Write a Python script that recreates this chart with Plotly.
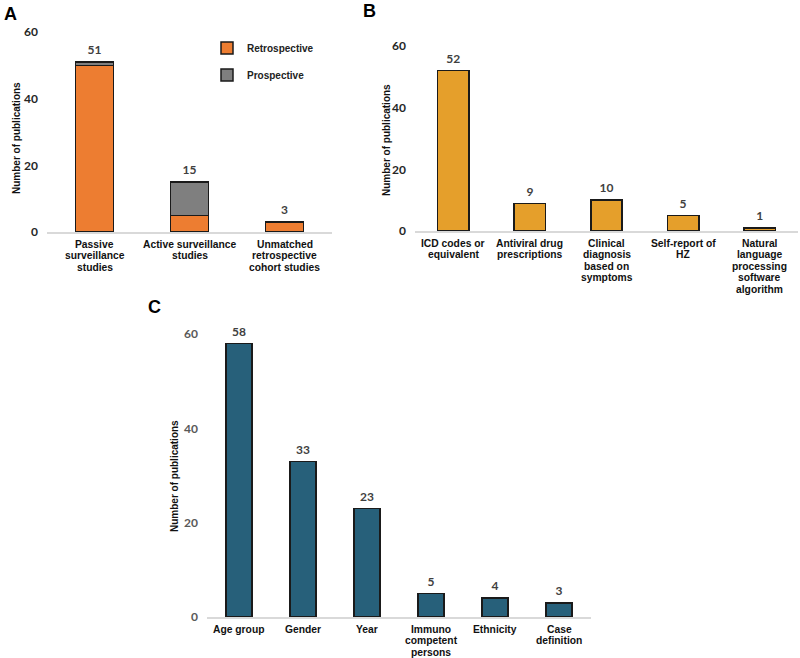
import plotly.graph_objects as go

# ---- Data ----
a_categories = ["Passive<br>surveillance<br>studies", "Active surveillance<br>studies",
                "Unmatched<br>retrospective<br>cohort studies"]
a_retrospective = [50, 5, 3]
a_prospective = [1, 10, 0]

b_categories = ["ICD codes or<br>equivalent", "Antiviral drug<br>prescriptions",
                "Clinical<br>diagnosis<br>based on<br>symptoms", "Self-report of<br>HZ",
                "Natural<br>language<br>processing<br>software<br>algorithm"]
b_values = [52, 9, 10, 5, 1]

c_categories = ["Age group", "Gender", "Year", "Immuno<br>competent<br>persons",
                "Ethnicity", "Case<br>definition"]
c_values = [58, 33, 23, 5, 4, 3]

y_ticks = [0, 20, 40, 60]

# ---- Styles ----
ORANGE = "#ED7D31"
GRAY = "#7F7F7F"
GOLD = "#E59F2B"
TEAL = "#27607A"
OUT = "#1a1a1a"
H = 658
W = 800

def py(p):
    return (H - p) / H

def px(p):
    return p / W

cat_font = dict(family="Liberation Sans, Arial, sans-serif", size=10.3, color="#111111", weight="bold")
tick_font = dict(family="Lato, Open Sans, sans-serif", size=12, color="#262626", weight="bold")
tick_font_c = dict(family="Lato, Open Sans, sans-serif", size=12, color="#595959", weight="bold")
val_font = dict(family="Lato, Open Sans, sans-serif", size=12, color="#404040", weight="bold")

fig = go.Figure()

def value_labels(xs, ys, xa, ya):
    return go.Scatter(x=xs, y=ys, mode="markers+text", text=[str(v) for v in ys],
                      marker=dict(size=6, opacity=0), hoverinfo="skip",
                      textposition="top center", textfont=val_font, showlegend=False,
                      xaxis=xa, yaxis=ya, cliponaxis=False)

# Panel A
fig.add_trace(go.Bar(x=a_categories, y=a_retrospective, name="Retrospective",
                     marker=dict(color=ORANGE, line=dict(color=OUT, width=1.5)),
                     width=0.4, xaxis="x", yaxis="y", legend="legend"))
fig.add_trace(go.Bar(x=a_categories, y=a_prospective, name="Prospective",
                     marker=dict(color=GRAY, line=dict(color=OUT, width=1.5)),
                     width=0.4, xaxis="x", yaxis="y", legend="legend2"))
a_totals = [r + p for r, p in zip(a_retrospective, a_prospective)]
fig.add_trace(value_labels(a_categories, a_totals, "x", "y"))

# Panel B
fig.add_trace(go.Bar(x=b_categories, y=b_values, showlegend=False,
                     marker=dict(color=GOLD, line=dict(color=OUT, width=1.5)),
                     width=0.41, xaxis="x2", yaxis="y2"))
fig.add_trace(value_labels(b_categories, b_values, "x2", "y2"))

# Panel C
fig.add_trace(go.Bar(x=c_categories, y=c_values, showlegend=False,
                     marker=dict(color=TEAL, line=dict(color=OUT, width=1.5)),
                     width=0.41, xaxis="x3", yaxis="y3"))
fig.add_trace(value_labels(c_categories, c_values, "x3", "y3"))

def xax(domain, anchor):
    return dict(domain=domain, anchor=anchor, showline=True, linecolor="#D9D9D9", linewidth=1.5,
                showgrid=False, zeroline=False, ticks="", showticklabels=False, fixedrange=True,
                automargin=False)

def yax(domain, anchor, tf):
    return dict(domain=domain, anchor=anchor, range=[0, 60], tickvals=y_ticks, showgrid=False,
                zeroline=False, showline=False, ticks="", tickfont=tf, ticklabelstandoff=8,
                automargin=False, fixedrange=True)

leg_font = dict(family="Liberation Sans, Arial, sans-serif", size=10, color="#222", weight="bold")
dom_a_y = [py(232), py(32)]
dom_b_y = [py(231), py(46)]
dom_c_y = [py(617), py(334)]
fig.update_layout(
    width=W, height=H, margin=dict(l=0, r=0, t=0, b=0, autoexpand=False),
    paper_bgcolor="white", plot_bgcolor="white",
    barmode="stack",
    xaxis=xax([px(47), px(332)], "y"),
    yaxis=yax(dom_a_y, "x", tick_font),
    xaxis2=xax([px(415), px(798)], "y2"),
    yaxis2=yax(dom_b_y, "x2", tick_font),
    xaxis3=xax([px(207), px(591)], "y3"),
    yaxis3=yax(dom_c_y, "x3", tick_font_c),
    legend=dict(x=px(207), y=py(48), xanchor="left", yanchor="middle", bgcolor="rgba(0,0,0,0)",
                font=leg_font, itemwidth=30),
    legend2=dict(x=px(207), y=py(75), xanchor="left", yanchor="middle", bgcolor="rgba(0,0,0,0)",
                 font=leg_font, itemwidth=30),
    showlegend=True,
)

# category labels, one text line each, placed at category positions on each x axis
def category_labels(cats, xref, y_bottom):
    for c in cats:
        for i, line in enumerate(c.split("<br>")):
            fig.add_annotation(x=c, xref=xref, y=y_bottom, yref="paper", text=line,
                               showarrow=False, xanchor="center", yanchor="middle",
                               yshift=-(12 + i * 11.5), font=cat_font)

category_labels(a_categories, "x", dom_a_y[0])
category_labels(b_categories, "x2", dom_b_y[0])
category_labels(c_categories, "x3", dom_c_y[0])

ytitle_font = dict(family="Liberation Sans, Arial, sans-serif", size=10, color="#111111", weight="bold")
panel_font = dict(family="Liberation Sans, Arial, sans-serif", size=18, color="#000000", weight="bold")
annos = [
    dict(text="Number of publications", x=px(16), y=py(138), textangle=-90, font=ytitle_font),
    dict(text="Number of publications", x=px(387), y=py(140), textangle=-90, font=ytitle_font),
    dict(text="Number of publications", x=px(175), y=py(476), textangle=-90, font=ytitle_font),
    dict(text="A", x=px(10), y=py(14), font=panel_font),
    dict(text="B", x=px(369), y=py(11), font=panel_font),
    dict(text="C", x=px(154), y=py(307), font=panel_font),
]
for a in annos:
    fig.add_annotation(xref="paper", yref="paper", showarrow=False, xanchor="center", yanchor="middle", **a)

fig.write_html("out.html", config={"displayModeBar": False},
               post_script="document.body.style.margin='0px';document.body.style.overflow='hidden';")
